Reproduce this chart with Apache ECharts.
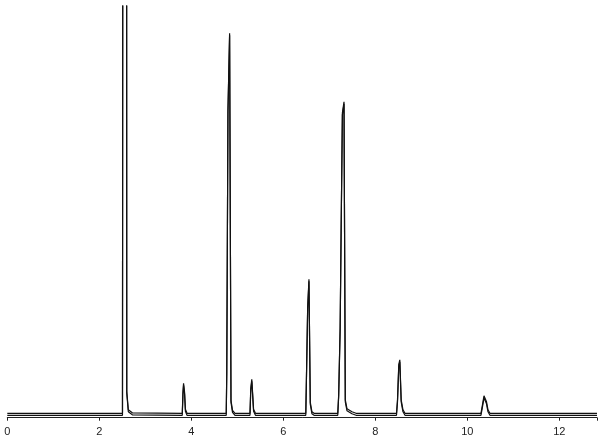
<!DOCTYPE html>
<html>
<head>
<meta charset="utf-8">
<script src="https://cdn.jsdelivr.net/npm/echarts@6/dist/echarts.min.js"></script>
<style>
html,body{margin:0;padding:0;background:#fff;}
#chart{width:600px;height:443px;}
</style>
</head>
<body>
<div id="chart"></div>
<script>
// retention time (min)
var timeMin = [
  0.000,
  2.504, 2.515, 2.591, 2.597, 2.631, 2.718, 2.754,
  3.804, 3.819, 3.832, 3.854, 3.872, 3.907,
  4.760, 4.771, 4.797, 4.833, 4.863, 4.896, 4.950,
  5.276, 5.293, 5.315, 5.332, 5.354, 5.395,
  6.489, 6.500, 6.530, 6.558, 6.587, 6.623, 6.668,
  7.184, 7.204, 7.236, 7.258, 7.285, 7.320, 7.348, 7.385, 7.493, 7.581,
  8.461, 8.483, 8.511, 8.533, 8.563, 8.602, 8.646,
  10.297, 10.330, 10.363, 10.392, 10.418, 10.450, 10.493,
  12.820
];
// detector signal (arbitrary units)
var signal = [
  0,
  0, 900, 900, 22, 3.5, 0.5, 0,
  0, 21, 30, 21, 4, 0,
  0, 41, 303, 380, 13, 3, 0,
  0, 25, 34, 21, 4, 0,
  0, 27, 106, 134, 11, 1.5, 0,
  0, 18.5, 85.5, 185.5, 300.5, 311.5, 13.5, 4.5, 1.5, 0,
  0, 13.5, 49, 53.5, 13.5, 3.5, 0,
  0, 8.5, 17.5, 18.5, 11.5, 3.5, 0,
  0
];
var xTicks = [0, 2, 4, 6, 8, 10, 12];
var xMax = 12.82;
var yMin = -4.4;
var yMax = 407.3;

var pts = timeMin.map(function (t, i) { return [t, signal[i]]; });

var chart = echarts.init(document.getElementById('chart'), null, {renderer: 'canvas'});
chart.setOption({
  animation: false,
  backgroundColor: '#ffffff',
  grid: {left: 7.3, right: 3, top: 6, bottom: 25.3, containLabel: false},
  xAxis: {
    type: 'value', min: 0, max: xMax, interval: 2,
    axisLine: {show: true, onZero: false, lineStyle: {color: '#222', width: 1}},
    axisTick: {show: true, length: 3, lineStyle: {color: '#222'}},
    splitLine: {show: false},
    axisLabel: {
      color: '#222', fontSize: 11, fontFamily: 'Liberation Sans, Arial, sans-serif', margin: 9,
      formatter: function (v) { return xTicks.indexOf(v) >= 0 ? String(v) : ''; }
    }
  },
  yAxis: {
    type: 'value', min: yMin, max: yMax, show: false,
    splitLine: {show: false}
  },
  series: [
    {type: 'line', data: pts, symbol: 'none', clip: true,
     lineStyle: {color: '#111', width: 1.2, shadowColor: '#111', shadowBlur: 0, shadowOffsetX: 0, shadowOffsetY: 2}}
  ]
});
</script>
</body>
</html>
